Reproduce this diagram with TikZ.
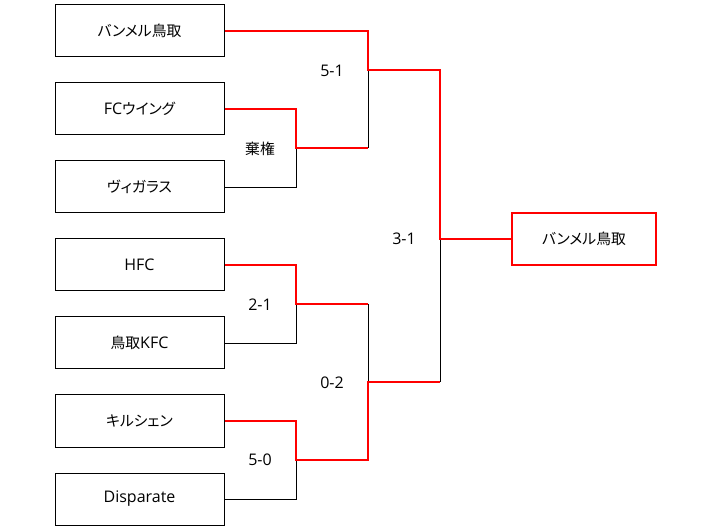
\documentclass[tikz,border=0pt]{standalone}
\usepackage{fontspec}
\setmainfont{Open Sans}
\newfontfamily\jafont[RawFeature=+palt]{Noto Sans CJK JP}
\newcommand{\ja}[1]{{\jafont\fontsize{14.8}{17}\selectfont #1}}
\usetikzlibrary{positioning}

\begin{document}
\begin{tikzpicture}[x=1pt, y=-1pt,
  team/.style={draw, line width=1pt, minimum width=169pt, minimum height=52pt, inner sep=0pt, font=\fontsize{16}{18}\selectfont},
  champ/.style={team, draw=red, line width=2.2pt, minimum width=144pt},
  lose/.style={draw, line width=0.9pt},
  win/.style={draw=red, line width=2.2pt},
  score/.style={font=\fontsize{16}{18}\selectfont}]
\path[use as bounding box] (0,0) rectangle (710,529);
\node[team] (T1) at (139.5,31) {\ja{バンメル鳥取}};
\node[team] (T2) at (139.5,109) {FC\ja{ウイング}};
\node[team] (T3) at (139.5,187) {\ja{ヴィガラス}};
\node[team] (T4) at (139.5,265) {HFC};
\node[team] (T5) at (139.5,343) {\ja{鳥取}KFC};
\node[team] (T6) at (139.5,421) {\ja{キルシェン}};
\node[team] (T7) at (139.5,499) {Disparate};
\node[champ] (W) at (584,239) {\ja{バンメル鳥取}};
\coordinate (A) at (296,148);
\coordinate (B) at (368,70);
\coordinate (C) at (296,304);
\coordinate (D) at (296,460);
\coordinate (E) at (368,382);
\coordinate (F) at (440,239);
% losers
\draw[lose] (T3.east) -| (A);
\draw[lose] (A -| B) -- (B);
\draw[lose] (T5.east) -| (C);
\draw[lose] (T7.east) -| (D);
\draw[lose] (C -| E) -- (E);
\draw[lose] (E -| F) -- (F);
% winners
\draw[win] (T2.east) -| (A) -- (A -| B);
\draw[win] (T1.east) -| (B) -- (B -| F) -- (F) -- (W.west);
\draw[win] (T4.east) -| (C) -- (C -| E);
\draw[win] (T6.east) -| (D) -- (D -| E) -- (E) -- (E -| F);
% scores
\node[score] (s1) at (260,149) {\ja{棄権}};
\node[score] (s2) at (332,71) {5-1};
\node[score] (s3) at (260,305) {2-1};
\node[score] (s4) at (260,460) {5-0};
\node[score] (s5) at (332,383) {0-2};
\node[score] (s6) at (404,239) {3-1};
\end{tikzpicture}
\end{document}
